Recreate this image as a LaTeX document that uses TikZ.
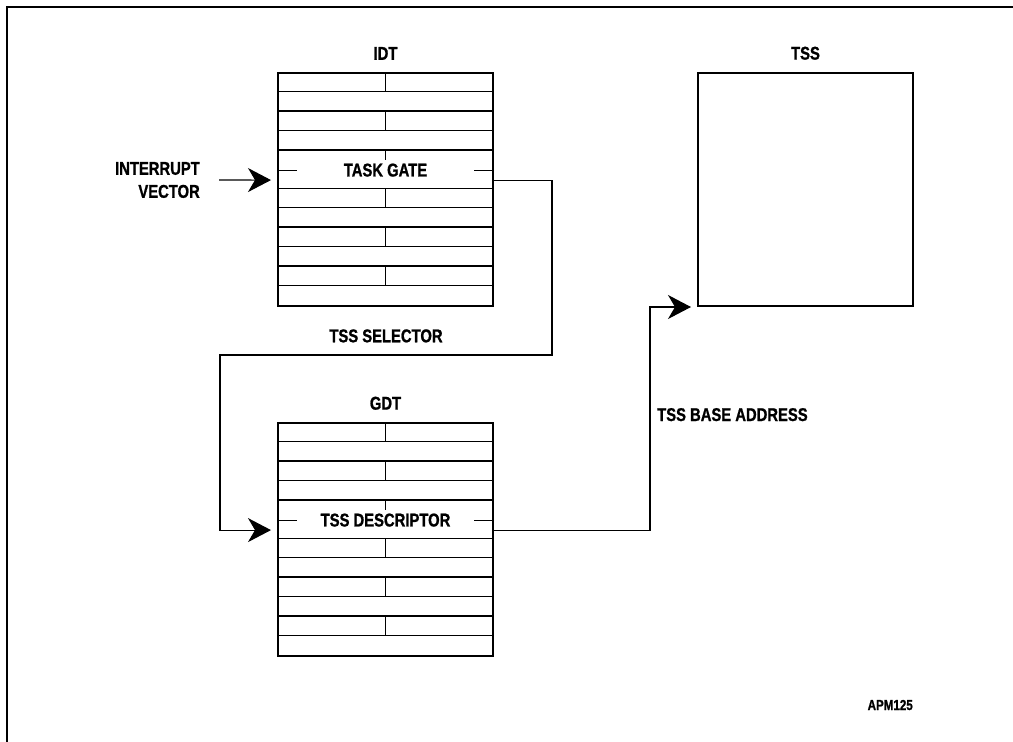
\documentclass[tikz,border=0pt]{standalone}
\usepackage{fontspec}
\setmainfont{Liberation Sans}[FakeStretch=0.8, FakeBold=1]
\usetikzlibrary{arrows.meta, positioning, calc}

\begin{document}
\begin{tikzpicture}[x=1pt, y=-1pt,
  table/.style={draw, line width=2pt, minimum width=215pt, minimum height=233pt, inner sep=0pt},
  sep/.style={line width=1.7pt},
  rule/.style={line width=1pt},
  lbl/.style={font=\bfseries\fontsize{18.5}{23}\selectfont, inner sep=0pt},
  conn/.style={line width=1.1pt},
  arr/.style={-{Stealth[length=23pt, width=24pt, inset=7pt]}, shorten >=6pt}]
\def\rowh{19.417}
\useasboundingbox (0,0) rectangle (1013,742);
% frame
\draw[line width=2pt] (1013,7) -- (7,7) -- (7,742);
% tables and task state segment
\node[table] (idt) at (385.5,189.5) {};
\node[table] (gdt) at (385.5,539.5) {};
\node[table] (tss) at (805.5,189.5) {};
\node[lbl, above=12pt of idt] (idtlbl) {IDT};
\node[lbl, above=12pt of gdt] (gdtlbl) {GDT};
\node[lbl, above=12pt of tss] (tsslbl) {TSS};
% descriptor rows
\foreach \tbl in {idt,gdt}{
  \foreach \k in {1,...,5}
    \draw[sep] ($(\tbl.north west)+(0,2*\k*\rowh)$) -- ++(215,0);
  \foreach \k in {0,1,3,4,5}{
    \draw[rule] ($(\tbl.north west)+(0,2*\k*\rowh+\rowh)$) -- ++(215,0);
    \draw[rule] ($(\tbl.north)+(0,2*\k*\rowh)$) -- ++(0,\rowh);
  }
  % ticks of the selected descriptor
  \draw[rule] ($(\tbl.north)+(0,4*\rowh)$) -- ++(0,10);
  \draw[rule] ($(\tbl.west)+(0,-\rowh)$) -- ++(20,0);
  \draw[rule] ($(\tbl.east)+(0,-\rowh)$) -- ++(-20,0);
}
\node[lbl] (gate) at ($(idt.center)+(0,-\rowh)$) {TASK GATE};
\node[lbl] (desc) at ($(gdt.center)+(0,-\rowh)$) {TSS DESCRIPTOR};
% connector ends
\coordinate (gatein) at ($(idt.west)+(0,10-\rowh)$);
\coordinate (gateout) at ($(idt.east)+(0,10-\rowh)$);
\coordinate (descin) at ($(gdt.west)+(0,10-\rowh)$);
\coordinate (descout) at ($(gdt.east)+(0,10-\rowh)$);
\coordinate (selR) at (552,355);
\coordinate (selL) at (220,355);
% interrupt vector
\node[lbl, align=right, anchor=east] (iv) at (200,180) {INTERRUPT\\VECTOR};
\draw[conn, arr] ([xshift=19pt]iv.east) -- (gatein);
% selector
\draw[conn, arr] (gateout) -| (selR) -- node[lbl, above=12pt] (sellbl) {TSS SELECTOR} (selL) |- (descin);
% base address
\draw[conn, arr] (descout) -| ([xshift=-47pt]tss.south west) -- (tss.south west);
\node[lbl, anchor=base west] (baselbl) at (657,421) {TSS BASE ADDRESS};
\node[font=\bfseries\fontsize{14.5}{16}\selectfont, inner sep=0pt, anchor=base east] (apm) at (913,710) {APM125};
\end{tikzpicture}
\end{document}
